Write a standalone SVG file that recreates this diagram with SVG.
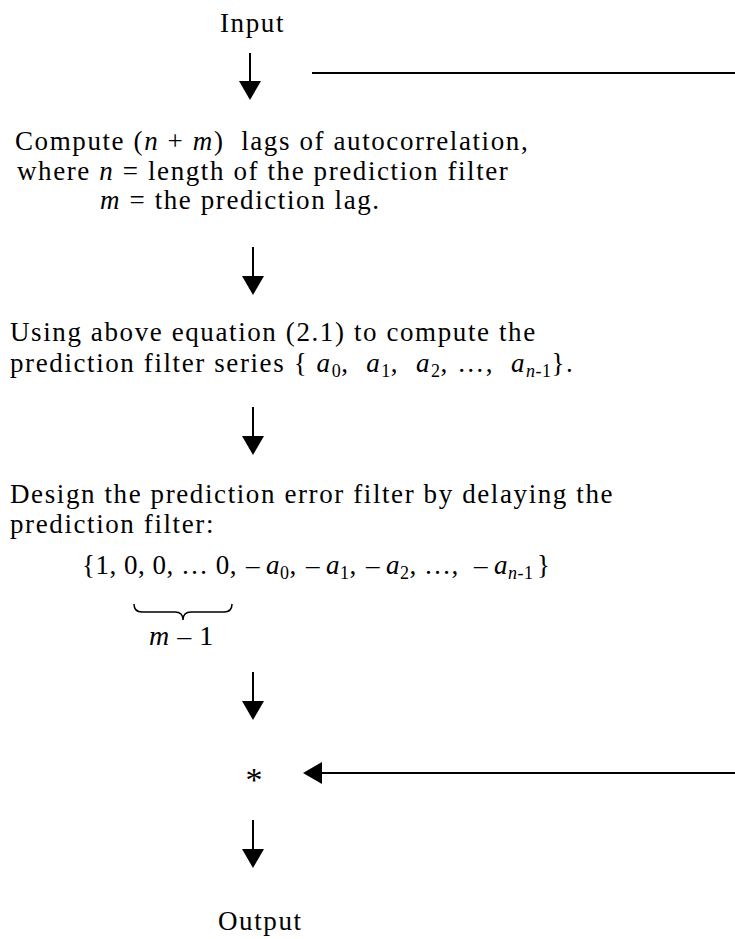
<svg xmlns="http://www.w3.org/2000/svg" width="735" height="939" viewBox="0 0 735 939">
<style>
text{font-family:"Liberation Serif","Times New Roman",serif;font-size:27px;letter-spacing:1.6px;fill:#000;white-space:pre}
.i{font-style:italic}
.s{font-size:18px;letter-spacing:0.5px}
.ln{stroke:#000;stroke-width:2;fill:none}
.hd{fill:#000}
</style>
<rect width="735" height="939" fill="#fff"/>
<g id="input"><text x="220" y="32">Input</text></g>
<g id="step1">
<text x="15" y="150">Compute (<tspan class="i">n</tspan> + <tspan class="i">m</tspan>)  lags of autocorrelation,</text>
<text x="17" y="180">where <tspan class="i">n</tspan> = length of the prediction filter</text>
<text x="100" y="209"><tspan class="i">m</tspan> = the prediction lag.</text>
</g>
<g id="step2">
<text x="10" y="341">Using above equation (2.1) to compute the</text>
<text x="10" y="372">prediction filter series { <tspan class="i">a</tspan><tspan class="s" dy="5">0</tspan><tspan dy="-5">,  </tspan><tspan class="i">a</tspan><tspan class="s" dy="5">1</tspan><tspan dy="-5">,  </tspan><tspan class="i">a</tspan><tspan class="s" dy="5">2</tspan><tspan dy="-5">, …,  </tspan><tspan class="i">a</tspan><tspan class="s i" dy="5">n</tspan><tspan class="s">-1</tspan><tspan dy="-5">}.</tspan></text>
</g>
<g id="step3">
<text x="10" y="503">Design the prediction error filter by delaying the</text>
<text x="10" y="533">prediction filter:</text>
<text x="82" y="574" style="letter-spacing:0.5px">{1, 0, 0, … 0,</text>
<text y="574" style="letter-spacing:0.5px"><tspan x="246">–</tspan><tspan x="266" class="i">a</tspan><tspan class="s" dy="5">0</tspan><tspan dy="-5">,</tspan><tspan x="306">–</tspan><tspan x="326" class="i">a</tspan><tspan class="s" dy="5">1</tspan><tspan dy="-5">,</tspan><tspan x="366">–</tspan><tspan x="386" class="i">a</tspan><tspan class="s" dy="5">2</tspan><tspan dy="-5">,</tspan><tspan x="424">…,</tspan><tspan x="474">–</tspan><tspan x="494" class="i">a</tspan><tspan class="s i" dy="5">n</tspan><tspan class="s">-1</tspan><tspan x="537" dy="-5">}</tspan></text>
<path class="ln" style="stroke-width:1.5" d="M134,604 Q134,612 142,612 L175,612 Q183,612 183,620 Q183,612 191,612 L224,612 Q232,612 232,604"/>
<text x="149" y="645" style="font-size:28px;letter-spacing:0.5px"><tspan class="i">m</tspan> – 1</text>
</g>
<g id="conv"><text x="254" y="791" text-anchor="middle" style="font-size:34px;letter-spacing:0">*</text></g>
<g id="output"><text x="218" y="930">Output</text></g>
<g id="connectors">
<line class="ln" x1="250" y1="53" x2="250" y2="83"/><polygon class="hd" points="239,81 261,81 250,100"/>
<line class="ln" x1="312" y1="73" x2="735" y2="73"/>
<line class="ln" x1="253" y1="247" x2="253" y2="278"/><polygon class="hd" points="242,276 264,276 253,295"/>
<line class="ln" x1="253" y1="407" x2="253" y2="438"/><polygon class="hd" points="242,436 264,436 253,455"/>
<line class="ln" x1="253" y1="672" x2="253" y2="703"/><polygon class="hd" points="242,701 264,701 253,720"/>
<line class="ln" x1="735" y1="773" x2="320" y2="773"/><polygon class="hd" points="322,762 322,784 303,773"/>
<line class="ln" x1="253" y1="820" x2="253" y2="851"/><polygon class="hd" points="242,849 264,849 253,868"/>
</g>
</svg>
